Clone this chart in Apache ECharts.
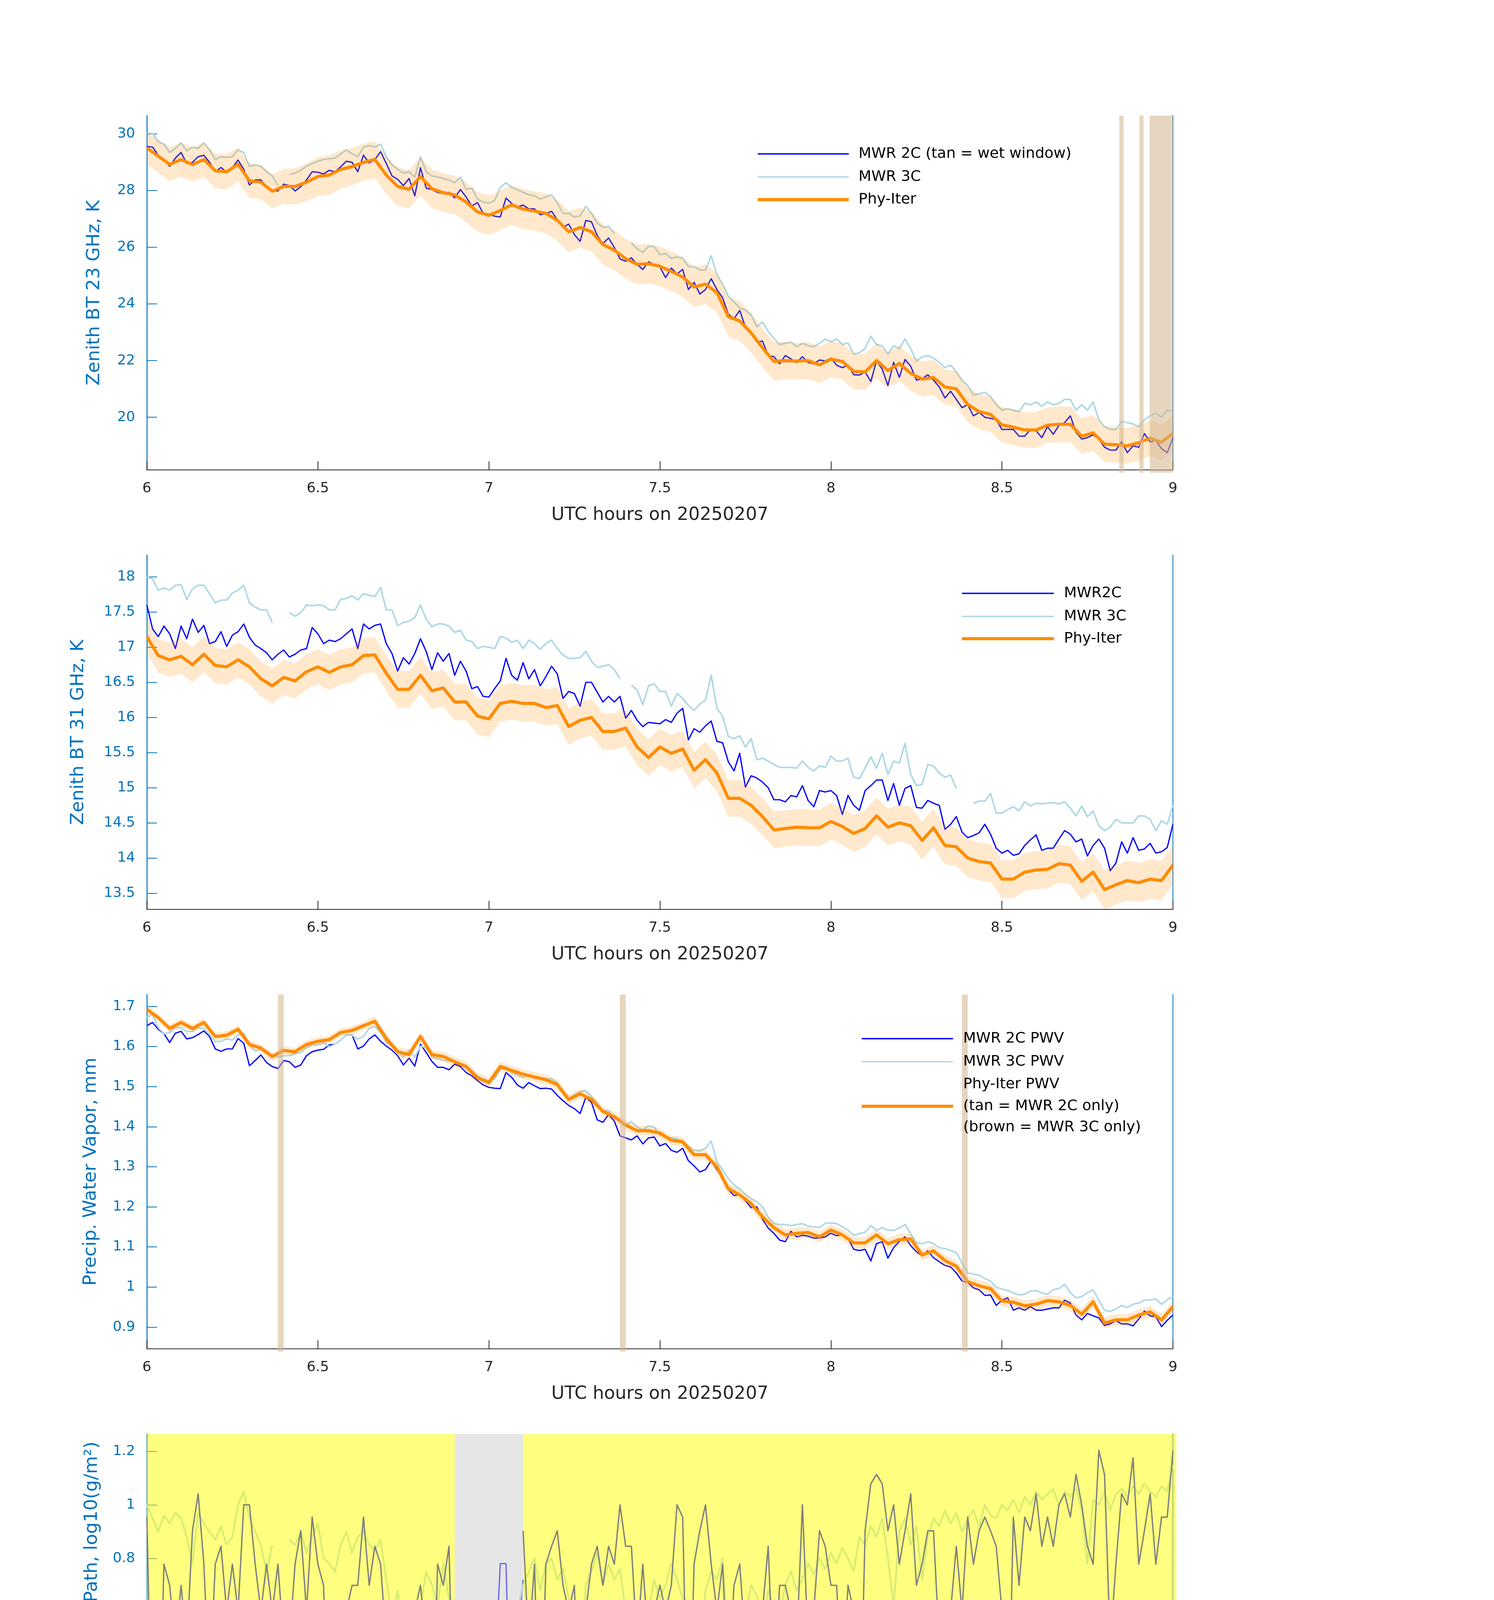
<!DOCTYPE html>
<html>
<head>
<meta charset="utf-8">
<script src="https://cdn.jsdelivr.net/npm/echarts@6.0.0/dist/echarts.min.js"></script>
<style>html,body{margin:0;padding:0;background:#ffffff}#chart{width:3825px;height:6000px}</style>
</head>
<body>
<div id="chart"></div>
<script>
const _ = null;
const T0 = 6;            // first sample, UTC hours on 20250207
const MWR_STEP = 1 / 60; // MWR series: one value per minute
const PHY_STEP = 2 / 60; // Phy-Iter retrievals: one value per two minutes

const xTicks = [6, 6.5, 7, 7.5, 8, 8.5, 9];
const bt23Ticks = [20, 22, 24, 26, 28, 30];
const bt31Ticks = [13.5, 14, 14.5, 15, 15.5, 16, 16.5, 17, 17.5, 18];
const pwvTicks = [0.9, 1, 1.1, 1.2, 1.3, 1.4, 1.5, 1.6, 1.7];
const lwpTicks = [0, 0.2, 0.4, 0.6, 0.8, 1, 1.2];
const dqTicks = [0, 2, 4, 6, 8, 10];

// ---------- Panel 1: zenith BT 23 GHz (K)
const bt23_2c = [
29.56,29.54,29.25,29.10,28.86,29.15,29.35,28.96,29.00,29.20,
29.25,29.00,28.67,28.82,28.65,28.82,29.08,28.76,28.20,28.38,
28.38,28.14,27.99,27.99,28.23,28.18,27.99,28.14,28.38,28.67,
28.65,28.59,28.72,28.67,28.84,29.04,29.00,28.67,29.25,28.98,
29.10,29.38,28.96,28.52,28.40,28.18,28.43,27.82,28.81,28.09,
28.04,27.94,27.90,27.94,27.75,28.04,27.78,27.46,27.58,27.20,
27.17,27.10,27.07,27.74,27.55,27.43,27.49,27.36,27.36,27.15,
27.19,27.27,26.98,26.70,26.82,26.45,26.21,26.95,26.90,26.42,
26.13,26.33,26.00,25.59,25.51,25.63,25.40,25.22,25.49,25.39,
25.31,24.93,25.27,25.06,25.22,24.51,24.76,24.35,24.51,24.89,
24.51,24.22,23.64,23.48,23.77,23.19,22.98,22.65,22.69,22.18,
22.14,21.89,22.18,22.06,21.93,22.14,21.93,21.89,22.02,21.99,
22.09,21.84,21.75,21.84,21.50,21.49,21.60,21.26,21.99,21.70,
21.12,21.94,21.41,22.04,21.80,21.31,21.36,21.50,21.31,21.07,
20.68,20.92,20.63,20.34,20.44,20.05,20.17,20.00,19.96,19.91,
19.57,19.57,19.57,19.33,19.33,19.57,19.52,19.28,19.67,19.40,
19.71,19.81,20.05,19.47,19.23,19.28,19.38,19.23,18.94,18.84,
18.84,19.13,18.75,18.99,18.94,19.42,19.13,19.18,18.89,18.75,
19.28];
const bt23_3c = [
30.04,30.02,29.73,29.64,29.35,29.49,29.69,29.40,29.54,29.49,
29.69,29.44,29.10,29.20,29.17,29.20,29.44,29.35,28.86,28.91,
28.86,28.67,28.52,28.18,_,28.57,28.62,28.72,28.86,28.96,
29.04,29.10,29.13,29.15,29.30,29.44,29.30,29.20,29.54,29.59,
29.54,29.64,29.20,28.91,28.75,28.62,28.67,28.48,29.20,28.67,
28.52,28.48,28.43,28.38,28.28,28.48,28.04,28.09,27.70,27.60,
27.56,27.65,28.11,28.28,28.11,28.03,27.94,27.86,27.82,27.70,
27.78,27.86,27.57,27.20,27.20,27.07,27.11,27.45,27.20,26.86,
26.70,26.74,26.49,_,_,26.15,25.95,25.82,26.03,26.03,
25.74,25.78,25.61,25.66,25.61,25.32,25.32,25.20,25.20,25.70,
25.03,24.70,24.28,24.07,23.86,23.78,23.61,23.20,23.36,23.03,
22.78,22.57,22.61,22.65,22.49,22.61,22.53,22.49,22.61,22.76,
22.67,22.76,22.57,22.62,22.23,22.28,22.42,22.86,22.57,22.52,
22.23,22.52,22.42,22.76,22.42,21.99,22.13,22.18,22.09,21.94,
21.75,21.84,21.60,21.31,21.12,20.78,20.83,20.88,20.73,20.44,
20.25,20.30,20.25,20.20,20.49,20.44,20.54,20.39,20.54,20.44,
20.49,20.63,20.63,20.25,20.44,20.25,20.54,19.91,19.67,19.57,
19.57,19.86,19.81,19.76,19.67,19.91,20.05,20.15,20.00,20.25,
20.20];
const bt23_phy = [
29.51,29.22,28.93,29.10,28.92,29.10,28.70,28.67,28.93,28.35,
28.30,27.98,28.15,28.15,28.30,28.50,28.55,28.75,28.85,29.00,
29.10,28.55,28.15,28.05,28.50,28.07,27.93,27.85,27.60,27.25,
27.13,27.30,27.50,27.35,27.28,27.20,26.95,26.55,26.70,26.55,
26.10,25.90,25.60,25.40,25.42,25.33,25.15,24.95,24.60,24.70,
24.40,23.55,23.40,22.98,22.45,21.97,22.00,21.98,22.00,21.85,
22.05,21.97,21.62,21.60,22.00,21.65,21.90,21.55,21.35,21.40,
21.07,21.00,20.45,20.20,20.10,19.73,19.65,19.55,19.55,19.72,
19.75,19.75,19.33,19.45,19.05,19.03,18.99,19.10,19.26,19.12,
19.43];
const bt23_unc = [
0.58,0.58,0.60,0.60,0.60,0.60,0.62,0.62,0.60,0.60,
0.60,0.60,0.62,0.64,0.66,0.68,0.70,0.68,0.66,0.65,
0.65,0.66,0.68,0.68,0.66,0.68,0.68,0.68,0.70,0.70,
0.70,0.70,0.70,0.70,0.70,0.70,0.72,0.72,0.70,0.70,
0.70,0.70,0.70,0.70,0.70,0.70,0.70,0.70,0.70,0.70,
0.70,0.70,0.70,0.70,0.68,0.68,0.66,0.65,0.65,0.65,
0.64,0.64,0.64,0.64,0.62,0.62,0.62,0.62,0.62,0.62,
0.62,0.62,0.62,0.62,0.62,0.63,0.63,0.63,0.63,0.63,
0.63,0.63,0.63,0.63,0.63,0.63,0.63,0.63,0.63,0.63,
0.63];
const bt23WetWindows = [[8.843, 8.856], [8.902, 8.914], [8.932, 9.0]];

// ---------- Panel 2: zenith BT 31 GHz (K)
const bt31_2c = [
17.60,17.26,17.15,17.30,17.19,16.98,17.30,17.12,17.40,17.21,
17.31,17.05,17.08,17.22,17.01,17.17,17.22,17.33,17.14,17.03,
16.98,16.92,16.82,16.90,16.96,16.86,16.90,16.96,16.98,17.28,
17.19,17.05,17.10,17.08,17.12,17.19,17.26,16.98,17.33,17.26,
17.31,17.33,17.05,16.91,16.66,16.85,16.76,16.91,17.12,16.94,
16.68,16.92,16.80,16.91,16.60,16.80,16.66,16.41,16.44,16.30,
16.29,16.41,16.52,16.84,16.60,16.53,16.78,16.55,16.68,16.45,
16.58,16.73,16.62,16.27,16.37,16.34,16.16,16.50,16.50,16.36,
16.22,16.30,16.22,16.30,15.99,16.10,15.96,15.87,15.93,15.92,
15.91,15.97,15.93,16.06,16.13,15.68,15.84,15.79,15.88,15.95,
15.66,15.64,15.37,15.24,15.49,15.01,15.17,15.14,15.08,15.00,
14.83,14.83,14.80,14.89,14.87,15.03,14.82,14.73,14.96,14.94,
14.96,14.89,14.62,14.89,14.75,14.68,14.96,15.03,15.11,15.11,
14.82,15.06,14.75,14.99,15.03,14.72,14.71,14.82,14.78,14.75,
14.41,14.48,14.59,14.37,14.29,14.32,14.36,14.48,14.34,14.14,
14.07,14.11,14.04,14.06,14.18,14.26,14.33,14.11,14.14,14.14,
14.27,14.39,14.34,14.23,14.27,14.03,14.18,14.27,14.14,13.82,
13.93,14.23,14.07,14.29,14.11,14.13,14.21,14.07,14.09,14.15,
14.48];
const bt31_3c = [
18.00,17.97,17.81,17.84,17.81,17.88,17.89,17.68,17.83,17.88,
17.88,17.76,17.63,17.67,17.67,17.77,17.81,17.88,17.63,17.57,
17.53,17.53,17.35,_,_,17.49,17.44,17.49,17.60,17.59,
17.60,17.59,17.53,17.53,17.68,17.69,17.73,17.67,17.76,17.74,
17.72,17.85,17.53,17.53,17.31,17.35,17.37,17.42,17.60,17.40,
17.29,17.33,17.33,17.30,17.21,17.24,17.10,17.08,16.98,17.01,
17.00,16.98,17.15,17.13,17.07,17.10,16.98,17.10,17.05,16.97,
17.05,17.10,16.98,16.89,16.84,16.84,16.85,16.94,16.80,16.71,
16.73,16.75,16.68,16.55,_,16.46,16.39,16.18,16.45,16.48,
16.37,16.37,16.16,16.34,16.27,16.17,16.10,16.19,16.25,16.60,
16.13,16.02,15.73,15.70,15.74,15.58,15.70,15.40,15.42,15.38,
15.33,15.29,15.29,15.29,15.28,15.38,15.29,15.24,15.31,15.29,
15.45,15.38,15.38,15.42,15.15,15.13,15.28,15.44,15.28,15.49,
15.19,15.38,15.35,15.63,15.19,15.03,15.05,15.33,15.31,15.21,
15.15,15.18,14.99,_,_,14.78,14.81,14.81,14.92,14.64,
14.64,14.69,14.73,14.67,14.80,14.74,14.78,14.77,14.78,14.79,
14.77,14.80,14.71,14.60,14.74,14.59,14.67,14.46,14.39,14.44,
14.55,14.50,14.50,14.50,14.60,14.60,14.55,14.39,14.53,14.48,
14.75];
const bt31_phy = [
17.15,16.88,16.82,16.87,16.75,16.90,16.74,16.72,16.82,16.72,
16.55,16.45,16.57,16.52,16.65,16.72,16.64,16.72,16.75,16.88,
16.89,16.63,16.40,16.40,16.60,16.38,16.42,16.22,16.22,16.02,
15.98,16.20,16.23,16.20,16.20,16.14,16.17,15.87,15.96,16.00,
15.80,15.80,15.85,15.58,15.43,15.58,15.49,15.55,15.25,15.40,
15.21,14.85,14.85,14.75,14.59,14.40,14.42,14.44,14.43,14.43,
14.52,14.45,14.35,14.42,14.60,14.44,14.50,14.46,14.25,14.43,
14.18,14.16,14.00,13.95,13.93,13.70,13.70,13.80,13.83,13.84,
13.92,13.90,13.67,13.80,13.55,13.62,13.68,13.65,13.70,13.68,
13.90];
const bt31_unc = [
0.24,0.24,0.24,0.25,0.25,0.25,0.25,0.25,0.25,0.25,
0.25,0.25,0.25,0.25,0.25,0.25,0.25,0.25,0.25,0.25,
0.25,0.25,0.26,0.26,0.26,0.26,0.26,0.26,0.26,0.26,
0.26,0.26,0.26,0.26,0.26,0.26,0.26,0.26,0.26,0.26,
0.26,0.26,0.26,0.26,0.26,0.26,0.26,0.26,0.26,0.26,
0.26,0.26,0.26,0.26,0.26,0.26,0.26,0.26,0.26,0.26,
0.26,0.26,0.26,0.26,0.26,0.26,0.26,0.27,0.27,0.27,
0.27,0.27,0.27,0.27,0.27,0.27,0.27,0.27,0.27,0.27,
0.27,0.27,0.27,0.27,0.28,0.28,0.28,0.28,0.28,0.28,
0.28];

// ---------- Panel 3: precipitable water vapour (mm)
const pwv_2c = [
1.652,1.660,1.643,1.632,1.610,1.633,1.638,1.619,1.622,1.630,
1.639,1.625,1.594,1.588,1.594,1.594,1.620,1.608,1.552,1.565,
1.579,1.560,1.550,1.545,1.565,1.562,1.548,1.554,1.577,1.587,
1.591,1.593,1.604,1.606,1.616,1.629,1.629,1.594,1.601,1.619,
1.629,1.613,1.601,1.591,1.577,1.554,1.571,1.551,1.606,1.585,
1.563,1.548,1.548,1.542,1.556,1.550,1.535,1.527,1.515,1.504,
1.498,1.496,1.495,1.535,1.523,1.504,1.496,1.510,1.502,1.495,
1.496,1.494,1.478,1.465,1.453,1.445,1.433,1.473,1.461,1.417,
1.411,1.430,1.414,1.377,1.372,1.367,1.377,1.357,1.372,1.374,
1.352,1.358,1.341,1.336,1.346,1.315,1.302,1.287,1.293,1.315,
1.293,1.271,1.243,1.228,1.231,1.215,1.198,1.200,1.169,1.147,
1.134,1.117,1.113,1.139,1.125,1.129,1.127,1.122,1.122,1.125,
1.134,1.128,1.131,1.122,1.094,1.091,1.094,1.065,1.108,1.113,
1.072,1.098,1.114,1.125,1.103,1.088,1.078,1.090,1.073,1.063,
1.054,1.050,1.035,1.015,1.011,0.998,0.993,0.979,0.980,0.954,
0.967,0.973,0.942,0.948,0.942,0.951,0.942,0.942,0.945,0.948,
0.948,0.967,0.960,0.930,0.918,0.934,0.928,0.923,0.904,0.908,
0.916,0.908,0.908,0.903,0.920,0.940,0.928,0.926,0.901,0.917,
0.930];
const pwv_3c = [
1.672,1.681,1.647,1.632,1.635,1.647,1.647,1.637,1.638,1.647,
1.645,1.630,1.612,1.613,1.619,1.616,1.629,1.633,1.604,1.589,
1.593,1.587,1.579,1.573,1.577,1.577,1.582,1.585,1.597,1.605,
1.604,1.610,1.599,1.606,1.616,1.629,1.628,1.619,1.625,1.645,
1.650,1.635,1.610,1.601,1.589,1.574,1.591,1.573,1.601,1.597,
1.574,1.570,1.566,1.563,1.562,1.557,1.548,1.540,1.526,1.519,
1.514,1.519,1.542,1.550,1.535,1.529,1.523,1.529,1.520,1.520,
1.520,1.519,1.510,1.482,1.470,1.479,1.487,1.490,1.475,1.458,
1.440,1.439,1.420,1.414,1.402,1.413,1.399,1.392,1.402,1.399,
1.379,1.376,1.372,1.369,1.364,1.351,1.341,1.340,1.346,1.364,
1.312,1.293,1.270,1.255,1.245,1.231,1.221,1.213,1.200,1.175,
1.158,1.156,1.156,1.153,1.156,1.158,1.152,1.150,1.148,1.159,
1.160,1.158,1.150,1.142,1.129,1.133,1.137,1.153,1.142,1.148,
1.142,1.141,1.147,1.156,1.133,1.110,1.108,1.113,1.108,1.098,
1.096,1.091,1.086,1.060,1.035,1.032,1.030,1.021,1.015,0.999,
0.995,0.991,0.985,0.980,0.982,0.990,0.991,0.985,0.982,0.993,
0.996,1.007,0.986,0.973,0.976,0.986,0.993,0.967,0.942,0.939,
0.945,0.954,0.949,0.957,0.960,0.967,0.968,0.970,0.957,0.968,
0.976];
const pwv_phy = [
1.693,1.672,1.645,1.660,1.645,1.660,1.625,1.628,1.643,1.605,
1.596,1.575,1.590,1.587,1.605,1.613,1.617,1.635,1.640,1.652,
1.663,1.620,1.587,1.580,1.625,1.580,1.575,1.562,1.550,1.522,
1.510,1.550,1.540,1.531,1.524,1.517,1.505,1.468,1.482,1.468,
1.438,1.425,1.404,1.390,1.390,1.384,1.366,1.362,1.330,1.330,
1.300,1.245,1.230,1.208,1.175,1.148,1.130,1.134,1.136,1.125,
1.142,1.130,1.110,1.110,1.130,1.108,1.118,1.120,1.080,1.090,
1.066,1.052,1.013,1.003,0.996,0.965,0.962,0.953,0.957,0.966,
0.963,0.954,0.932,0.963,0.910,0.918,0.918,0.930,0.938,0.918,
0.951];
const pwv_unc = [
0.010,0.010,0.010,0.010,0.010,0.010,0.010,0.010,0.010,0.010,
0.010,0.010,0.010,0.010,0.010,0.010,0.010,0.010,0.010,0.010,
0.012,0.012,0.012,0.012,0.012,0.012,0.012,0.012,0.012,0.012,
0.012,0.012,0.012,0.012,0.012,0.012,0.012,0.012,0.012,0.012,
0.012,0.012,0.012,0.012,0.012,0.012,0.012,0.012,0.012,0.012,
0.014,0.014,0.014,0.014,0.014,0.014,0.014,0.014,0.014,0.014,
0.014,0.014,0.014,0.014,0.014,0.014,0.014,0.014,0.014,0.014,
0.014,0.014,0.014,0.014,0.014,0.014,0.014,0.014,0.014,0.014,
0.014,0.014,0.014,0.014,0.014,0.014,0.014,0.014,0.014,0.014,
0.014];
const pwvWetWindows = [[6.383, 6.400], [7.383, 7.400], [8.383, 8.400]];

// ---------- Panel 4: liquid water path
const lwp_3c_log = [
1.00,0.95,0.90,0.96,0.93,0.97,0.95,0.88,0.78,0.97,
0.93,0.90,0.87,0.92,0.85,0.88,1.00,1.05,0.95,0.90,
0.85,0.75,0.85,_,_,0.87,0.85,0.90,0.82,0.88,
0.93,0.80,0.78,0.75,0.85,0.90,0.82,0.88,0.90,0.85,
0.83,0.87,0.72,0.58,0.68,0.45,0.15,0.55,0.62,0.75,
0.70,0.62,0.78,0.65,0.38,0.50,0.35,0.25,0.45,0.30,
0.15,0.25,0.40,0.50,0.55,0.60,0.70,0.75,0.80,0.68,
0.78,0.80,0.72,0.76,0.65,0.55,0.20,0.70,0.75,0.82,
0.70,0.78,0.72,0.76,0.60,0.55,0.35,0.12,0.60,0.72,
0.65,0.70,0.78,0.72,0.65,0.15,0.55,0.48,0.68,0.75,
0.72,0.80,0.50,0.42,0.62,0.58,0.70,0.66,0.55,0.68,
0.62,0.58,0.70,0.75,0.68,0.72,0.78,0.74,0.80,0.76,
0.82,0.78,0.84,0.80,0.75,0.88,0.85,0.92,0.88,0.95,
0.80,0.62,0.90,0.95,0.85,0.92,0.72,0.88,0.95,0.92,
0.98,0.93,0.97,0.90,0.95,0.98,0.92,1.00,0.96,0.95,
1.00,0.98,1.02,0.97,1.03,1.00,1.05,1.02,1.04,1.06,
1.00,1.05,1.03,1.06,0.98,0.78,1.02,1.00,1.05,0.98,
1.04,1.06,1.03,1.07,1.04,1.08,1.05,1.03,1.07,1.05,
1.15];
const lwp_2c_log = [
_,_,_,_,_,_,_,_,_,_,
_,_,_,_,_,_,_,_,_,_,
_,_,_,_,_,_,_,_,_,_,
_,_,_,_,_,_,_,_,_,_,
_,_,_,_,_,_,_,_,_,_,
_,_,_,_,0.00,0.55,0.48,0.30,0.00,0.00,
0.00,0.35,0.78,0.78,0.00,0.48,0.72,_,_,_,
_,_,_,_,_,_,_,_,_,_,
_,_,_,_,_,_,_,_,_,_,
_,_,_,_,_,_,_,_,_,_,
_,_,_,_,_,_,_,_,_,_,
_,_,_,_,_,_,_,_,_,_,
_,_,_,_,_,_,_,_,_,_,
_,_,_,_,_,_,_,_,_,_,
_,_,_,_,_,_,_,_,_,_,
_,_,_,_,_,_,_,_,_,_,
_,_,_,_,_,_,_,_,_,_,
_,_,_,_,_,_,_,_,_,_,
_];
const lwp_phy_log = [];  // no Phy-Iter LWP retrieved in this window
const lwp_adiab_gm2 = [
9,1,1,6,5,3,5,3,8,11,
6,2,6,7,4,6,4,10,10,6,
4,6,4,6,3,3,6,8,4,9,
6,5,1,3,4,4,5,5,9,5,
7,6,3,2,3,4,1,4,5,3,
1,6,5,7,1,_,_,_,_,_,
_,_,_,_,_,_,8,3,6,1,
6,7,8,5,4,5,1,4,6,7,
5,7,6,10,7,7,3,6,3,4,
5,4,5,10,9,1,6,8,10,6,
4,6,2,5,6,3,4,2,4,7,
2,5,5,4,3,10,3,4,8,7,
5,5,2,5,4,1,8,12,13,12,
8,10,6,8,11,5,6,8,8,3,
4,4,7,4,9,6,8,9,8,7,
4,1,9,5,9,8,11,7,9,7,
10,11,9,13,10,7,6,16,13,3,
6,11,10,15,6,8,11,6,9,9,
16];
const lwpBothChannels = [[6.0, 6.9], [7.1, 9.01]];  // yellow shading
const lwp2cOnly = [[6.9, 7.1]];                      // grey shading

// ---------- Panel 5: Phy-Iter DQ flag
const dq_flag = [
5,5,5,5,5,5,5,5,5,5,
5,5,5,5,5,5,5,5,5,5,
5,5,5,5,5,5,5,5,5,5,
5,5,5,5,5,5,5,5,5,5,
5,5,5,5,5,5,5,5,5,5,
5,5,5,5,3,3,3,3,3,3,
3,3,3,3,3,3,5,5,5,5,
5,5,5,5,5,5,5,5,5,5,
5,5,5,5,5,5,5,5,5,5,
5,5,5,5,5,5,5,5,5,5,
5,5,5,5,5,5,5,5,5,5,
5,5,5,5,5,5,5,5,5,5,
5,5,5,5,5,5,5,5,5,5,
5,5,5,5,5,5,5,5,5,5,
5,5,5,5,5,5,5,5,5,5,
5,5,5,5,5,5,5,5,5,5,
5,5,5,5,5,5,5,5,5,5,
5,5,5,5,5,5,5,5,5,5,
5];

// ================= rendering =================
const FONT = 'DejaVu Sans';
const AX_BLUE = '#0072BD';
const AX_DARK = '#262626';
const C_2C = '#0000FF', C_3C = '#ADD8E6', C_PHY = '#FF8C00', C_ADIAB = '#808080', C_ADIAB_LEG = '#800080';
const BAND = 'rgba(255,140,0,0.2)';
const TAN = 'rgba(210,180,140,0.55)';

function pairs(vals, step) { return vals.map((v, i) => [T0 + i * step, v]); }

const tops = [296, 1421, 2546, 3671, 4796];
const grid = tops.map(t => ({ left: 376, top: t, width: 2627, height: 907, containLabel: false, outerBoundsMode: 'none' }));

const xAxis = tops.map((t, i) => ({
  gridIndex: i, type: 'value', min: 6, max: 9, interval: 0.5,
  name: 'UTC hours on 20250207', nameLocation: 'middle', nameGap: 93,
  nameTextStyle: { color: AX_DARK, fontSize: 46, fontFamily: FONT },
  axisLine: { show: true, onZero: false, lineStyle: { color: AX_DARK, width: 2 } },
  axisTick: { show: true, inside: true, length: 22, customValues: xTicks, lineStyle: { color: AX_DARK, width: 2 } },
  axisLabel: { show: true, customValues: xTicks, color: AX_DARK, fontSize: 36, fontFamily: FONT, margin: 30 },
  splitLine: { show: false }
}));

const yDefs = [
  { min: 18.14, max: 30.65, ticks: bt23Ticks, name: 'Zenith BT 23 GHz, K', gap: 111 },
  { min: 13.27, max: 18.31, ticks: bt31Ticks, name: 'Zenith BT 31 GHz, K', gap: 152 },
  { min: 0.8457, max: 1.7297, ticks: pwvTicks, name: 'Precip. Water Vapor, mm', gap: 120 },
  { min: -0.0607, max: 1.2653, ticks: lwpTicks, name: 'log10 Liquid Water Path, log10(g/m²)', gap: 117 },
  { min: -0.5, max: 11.5, ticks: dqTicks, name: 'MWR Phy Iter DQ Flag', gap: 111 }
];
const yAxis = [];
yDefs.forEach((d, i) => {
  yAxis.push({
    gridIndex: i, type: 'value', min: d.min, max: d.max, position: 'left',
    name: d.name, nameLocation: 'middle', nameGap: d.gap, nameRotate: 90,
    nameTextStyle: { color: AX_BLUE, fontSize: 47, fontFamily: FONT },
    axisLine: { show: true, onZero: false, lineStyle: { color: AX_BLUE, width: 2.5 } },
    axisTick: { show: true, inside: true, length: 26, customValues: d.ticks, lineStyle: { color: AX_BLUE, width: 2 } },
    axisLabel: { show: true, customValues: d.ticks, color: AX_BLUE, fontSize: 36, fontFamily: FONT, margin: 30 },
    splitLine: { show: false }
  });
  yAxis.push({
    gridIndex: i, type: 'value', min: d.min, max: d.max, position: 'right',
    axisLine: { show: true, onZero: false, lineStyle: { color: AX_BLUE, width: 2 } },
    axisTick: { show: false }, axisLabel: { show: false }, splitLine: { show: false }
  });
});

function line(gi, vals, step, color, width, z) {
  return {
    type: 'line', xAxisIndex: gi, yAxisIndex: 2 * gi, data: pairs(vals, step), z: z,
    showSymbol: false, symbol: 'none', connectNulls: false, clip: true, silent: true,
    lineStyle: { color: color, width: width, join: 'round' }, itemStyle: { color: color }
  };
}
function band(gi, center, unc, z) {
  return {
    type: 'custom', xAxisIndex: gi, yAxisIndex: 2 * gi, data: [[T0, center[0]]], clip: true, silent: true, z: z,
    renderItem: function (params, api) {
      const up = [], lo = [];
      for (let i = 0; i < center.length; i++) {
        const t = T0 + i * PHY_STEP;
        up.push(api.coord([t, center[i] + unc[i]]));
        lo.push(api.coord([t, center[i] - unc[i]]));
      }
      return { type: 'polygon', shape: { points: up.concat(lo.reverse()) }, style: { fill: BAND } };
    }
  };
}
function shade(gi, spans, fill, extBottom, z) {
  return {
    type: 'custom', xAxisIndex: gi, yAxisIndex: 2 * gi, data: spans, clip: false, silent: true, z: z,
    encode: { x: [0, 1] },
    renderItem: function (params, api) {
      const cs = params.coordSys;
      const a = api.coord([api.value(0), 0]);
      const b = api.coord([api.value(1), 0]);
      return { type: 'rect', shape: { x: a[0], y: cs.y, width: b[0] - a[0], height: cs.height + extBottom }, style: { fill: fill } };
    }
  };
}

const series = [
  // panel 1
  line(0, bt23_2c, MWR_STEP, C_2C, 3.2, 2),
  line(0, bt23_3c, MWR_STEP, C_3C, 4, 3),
  band(0, bt23_phy, bt23_unc, 4),
  line(0, bt23_phy, PHY_STEP, C_PHY, 8, 5),
  shade(0, bt23WetWindows, TAN, 7, 6),
  // panel 2
  line(1, bt31_2c, MWR_STEP, C_2C, 3.2, 2),
  line(1, bt31_3c, MWR_STEP, C_3C, 4, 3),
  band(1, bt31_phy, bt31_unc, 4),
  line(1, bt31_phy, PHY_STEP, C_PHY, 8, 5),
  // panel 3
  line(2, pwv_2c, MWR_STEP, C_2C, 3.2, 2),
  line(2, pwv_3c, MWR_STEP, C_3C, 4, 3),
  band(2, pwv_phy, pwv_unc, 4),
  line(2, pwv_phy, PHY_STEP, C_PHY, 8, 5),
  shade(2, pwvWetWindows, TAN, 7, 6),
  // panel 4
  line(3, lwp_2c_log, MWR_STEP, C_2C, 3.2, 2),
  line(3, lwp_3c_log, MWR_STEP, C_3C, 4.5, 3),
  line(3, lwp_phy_log, PHY_STEP, C_PHY, 8, 3),
  shade(3, lwpBothChannels, 'rgba(255,255,0,0.5)', 8, 4),
  shade(3, lwp2cOnly, 'rgba(205,205,205,0.5)', 8, 4),
  line(3, lwp_adiab_gm2.map(v => v === null ? null : Math.log10(v)), MWR_STEP, C_ADIAB, 3.5, 5),
  // panel 5
  {
    type: 'scatter', xAxisIndex: 4, yAxisIndex: 8, data: pairs(dq_flag, MWR_STEP), z: 3,
    symbol: 'circle', symbolSize: 7, itemStyle: { color: C_PHY }, silent: true
  }
];

// legends (drawn as graphics, in pixels)
function legend(x1, x2, tx, rows, texts) {
  const els = [];
  rows.forEach(r => els.push({
    type: 'line', z: 100, silent: true,
    shape: { x1: x1, y1: r.y, x2: x2, y2: r.y },
    style: { stroke: r.color, lineWidth: r.w }
  }));
  texts.forEach(t => els.push({
    type: 'text', z: 100, silent: true, x: tx, y: t.y,
    style: { text: t.text, fill: '#000000', fontSize: 38, fontFamily: FONT, align: 'left', verticalAlign: 'middle' }
  }));
  return els;
}
const graphics = [].concat(
  legend(1940, 2173, 2198,
    [{ y: 394, color: C_2C, w: 3.5 }, { y: 453, color: C_3C, w: 3.5 }, { y: 511, color: C_PHY, w: 8 }],
    [{ y: 394, text: 'MWR 2C (tan = wet window)' }, { y: 453, text: 'MWR 3C' }, { y: 511, text: 'Phy-Iter' }]),
  legend(2463, 2698, 2724,
    [{ y: 1519, color: C_2C, w: 3.5 }, { y: 1578, color: C_3C, w: 3.5 }, { y: 1635, color: C_PHY, w: 8 }],
    [{ y: 1519, text: 'MWR2C' }, { y: 1578, text: 'MWR 3C' }, { y: 1635, text: 'Phy-Iter' }]),
  legend(2206, 2440, 2466,
    [{ y: 2659, color: C_2C, w: 3.5 }, { y: 2718, color: C_3C, w: 3.5 }, { y: 2832, color: C_PHY, w: 8 }],
    [{ y: 2659, text: 'MWR 2C PWV' }, { y: 2718, text: 'MWR 3C PWV' }, { y: 2776, text: 'Phy-Iter PWV' },
     { y: 2832, text: '(tan = MWR 2C only)' }, { y: 2886, text: '(brown = MWR 3C only)' }]),
  legend(2300, 2534, 2559,
    [{ y: 4339, color: C_2C, w: 3.5 }, { y: 4396, color: C_3C, w: 3.5 }, { y: 4454, color: C_PHY, w: 8 }, { y: 4512, color: C_ADIAB_LEG, w: 3.5 }],
    [{ y: 4339, text: 'MWR 2C LWP' }, { y: 4396, text: 'MWR 3C LWP' }, { y: 4454, text: 'Phy-Iter LWP' }, { y: 4512, text: 'Adiabatic LWP' }])
);

const chart = echarts.init(document.getElementById('chart'), null, { renderer: 'canvas', width: 3825, height: 6000 });
chart.setOption({
  backgroundColor: '#ffffff',
  animation: false,
  textStyle: { fontFamily: FONT },
  grid: grid, xAxis: xAxis, yAxis: yAxis, series: series,
  graphic: { elements: graphics }
});
</script>
</body>
</html>
